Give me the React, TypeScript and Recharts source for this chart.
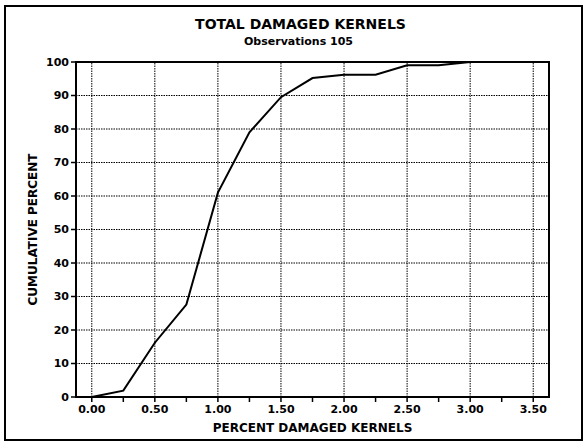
import React from "react";
import { LineChart, Line, XAxis, YAxis, ReferenceLine, ReferenceArea, Label } from "recharts";

const damagePct = [0, 0.25, 0.5, 0.75, 1.0, 1.25, 1.5, 1.75, 2.0, 2.25, 2.5, 2.75, 3.0];
const cumulativePct = [0, 1.9, 16.2, 27.6, 61.0, 79.0, 89.5, 95.2, 96.2, 96.2, 99.0, 99.0, 100];

const xTicks = [0, 0.25, 0.5, 0.75, 1, 1.25, 1.5, 1.75, 2, 2.25, 2.5, 2.75, 3, 3.25, 3.5];
const xGrid = [0, 0.5, 1, 1.5, 2, 2.5, 3, 3.5];
const yTicks = [0, 10, 20, 30, 40, 50, 60, 70, 80, 90, 100];
const yGrid = [10, 20, 30, 40, 50, 60, 70, 80, 90];
const xDomain: [number, number] = [-0.125, 3.625];

const FONT = "'DejaVu Sans', sans-serif";

const data = damagePct.map((x, i) => ({ x, pct: cumulativePct[i] }));

const tickStyle = { fontFamily: FONT, fontSize: 11, fontWeight: 700, fill: "#000" };

export default function App() {
  return (
    <div style={{ position: "absolute", left: 0, top: 0, width: 585, height: 443, background: "#fff", fontFamily: FONT }}>
      <div style={{ position: "absolute", left: 4, top: 5, width: 579, height: 436, border: "2px solid #000", boxSizing: "border-box" }} />
      <div style={{ position: "absolute", left: 8, width: 585, top: 16, textAlign: "center", fontSize: 14, fontWeight: 700, lineHeight: "16px" }}>
        TOTAL DAMAGED KERNELS
      </div>
      <div style={{ position: "absolute", left: 6, width: 585, top: 35, textAlign: "center", fontSize: 11, fontWeight: 700, lineHeight: "14px" }}>
        Observations 105
      </div>
      <div style={{ position: "absolute", left: 0, top: 0 }}>
        <LineChart width={585} height={443} data={data} margin={{ top: 62, right: 36, bottom: 8, left: 26 }}>
          {yGrid.map(v => (
            <ReferenceLine key={"y" + v} y={v} stroke="#000" strokeDasharray="1.5 1" strokeWidth={1} />
          ))}
          {xGrid.map(v => (
            <ReferenceLine key={"x" + v} x={v} stroke="#000" strokeDasharray="1.5 1" strokeWidth={1} />
          ))}
          <ReferenceArea x1={xDomain[0]} x2={xDomain[1]} y1={0} y2={100} fill="none" stroke="#000" strokeWidth={2} />
          <XAxis
            dataKey="x"
            type="number"
            domain={xDomain}
            ticks={xTicks}
            interval={0}
            allowDataOverflow
            height={38}
            tickSize={5}
            tickMargin={3}
            tick={tickStyle}
            tickFormatter={(v: number) => (Math.round(v * 2) === v * 2 ? v.toFixed(2) : "")}
            axisLine={{ stroke: "#000", strokeWidth: 2 }}
            tickLine={{ stroke: "#000", strokeWidth: 1.5 }}
          >
            <Label
              value="PERCENT DAMAGED KERNELS"
              position="insideBottom"
              offset={3}
              style={{ fontFamily: FONT, fontSize: 12, fontWeight: 700, fill: "#000" }}
            />
          </XAxis>
          <YAxis
            type="number"
            domain={[0, 100]}
            ticks={yTicks}
            interval={0}
            width={50}
            tickSize={5}
            tickMargin={2}
            tick={tickStyle}
            axisLine={{ stroke: "#000", strokeWidth: 2 }}
            tickLine={{ stroke: "#000", strokeWidth: 1.5 }}
          >
            <Label
              content={(props: any) => {
                const vb = props.viewBox || { x: 26, y: 62, width: 50, height: 335 };
                const cx = vb.x + 7;
                const cy = vb.y + vb.height / 2;
                return (
                  <text
                    x={cx}
                    y={cy}
                    transform={`rotate(-90, ${cx}, ${cy})`}
                    textAnchor="middle"
                    dominantBaseline="central"
                    style={{ fontFamily: FONT, fontSize: 12, fontWeight: 700, fill: "#000" }}
                  >
                    CUMULATIVE PERCENT
                  </text>
                );
              }}
            />
          </YAxis>
          <Line type="linear" dataKey="pct" stroke="#000" strokeWidth={2} dot={false} isAnimationActive={false} />
        </LineChart>
      </div>
    </div>
  );
}
